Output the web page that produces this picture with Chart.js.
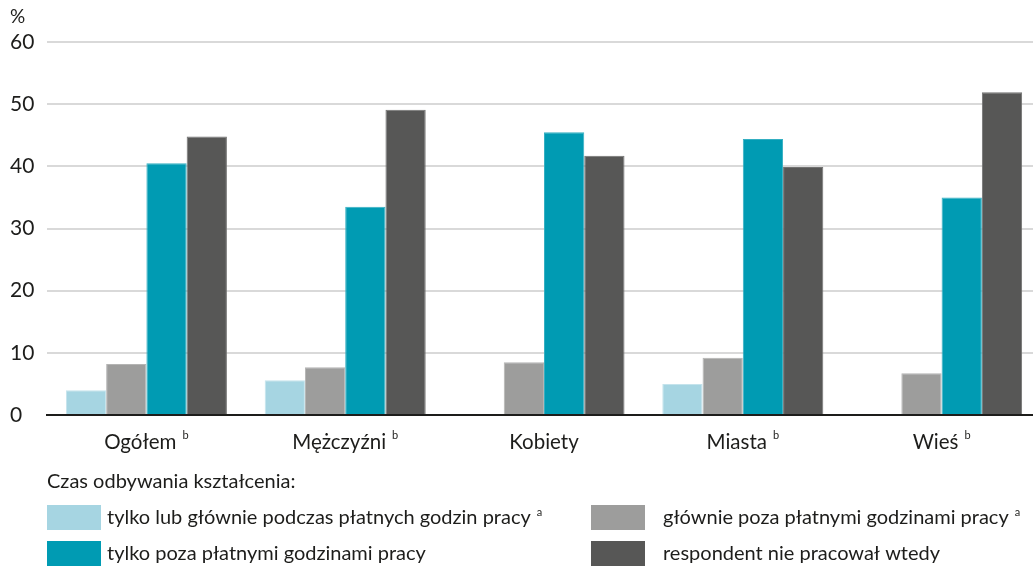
<!DOCTYPE html>
<html>
<head>
<meta charset="utf-8">
<script src="https://cdn.jsdelivr.net/npm/chart.js@4"></script>
<style>
  html, body { margin: 0; padding: 0; background: #fff; overflow: hidden; }
  #wrap { width: 1033px; height: 566px; overflow: hidden; }
</style>
</head>
<body>
<div id="wrap"><canvas id="myChart" width="1041" height="566"></canvas></div>
<script>
var categories = ['Ogółem', 'Mężczyźni', 'Kobiety', 'Miasta', 'Wieś'];
var categoryNotes = ['b', 'b', '', 'b', 'b'];

var seriesNames = [
  'tylko lub głównie podczas płatnych godzin pracy',
  'głównie poza płatnymi godzinami pracy',
  'tylko poza płatnymi godzinami pracy',
  'respondent nie pracował wtedy'
];
var seriesNotes = ['a', 'a', '', ''];

var duringWork = [4.0, 5.6, null, 5.0, null];
var mainlyOutside = [8.2, 7.7, 8.5, 9.2, 6.7];
var onlyOutside = [40.5, 33.5, 45.5, 44.4, 35.0];
var notWorking = [44.8, 49.1, 41.7, 39.9, 51.9];

var yTicks = [0, 10, 20, 30, 40, 50, 60];
var legendTitle = 'Czas odbywania kształcenia:';

var FONT = 'Lato, "Open Sans", sans-serif';
var TEXT = '#1d1d1b';

var colors = ['#a6d5e2', '#9d9d9c', '#009bb3', '#575756'];
var borders = ['#c4e3ec', '#b4b4b3', '#34afc2', '#727271'];

function textWithNote(c, txt, note, x, y, size, align) {
  c.font = size + 'px ' + FONT;
  var w = c.measureText(txt).width;
  var nw = 0;
  if (note) {
    c.font = Math.round(size * 0.55) + 'px ' + FONT;
    nw = c.measureText(note).width + 6;
  }
  var start = align === 'center' ? x - (w + nw) / 2 : x;
  c.font = size + 'px ' + FONT;
  c.textAlign = 'left';
  c.textBaseline = 'middle';
  c.fillText(txt, start, y);
  if (note) {
    c.font = Math.round(size * 0.55) + 'px ' + FONT;
    c.fillText(note, start + w + 6, y - size * 0.3);
  }
}

var extras = {
  id: 'extras',
  afterDraw: function (chart) {
    var c = chart.ctx;
    var a = chart.chartArea;
    var xs = chart.scales.x;
    c.save();
    c.fillStyle = TEXT;
    // unit
    c.font = '19px ' + FONT;
    c.textAlign = 'left';
    c.textBaseline = 'middle';
    c.fillText('%', 10, 17);
    // category labels
    categories.forEach(function (cat, i) {
      textWithNote(c, cat, categoryNotes[i], xs.getPixelForValue(i), a.bottom + 27, 20.5, 'center');
    });
    // legend
    c.fillStyle = TEXT;
    c.font = '20px ' + FONT;
    c.fillText(legendTitle, a.left, 482);
    var colX = [a.left, 591];
    var rowY = [505, 541];
    chart.data.datasets.forEach(function (ds, i) {
      var x = colX[i % 2];
      var y = rowY[Math.floor(i / 2)];
      c.fillStyle = ds.backgroundColor;
      c.fillRect(x, y, 54, 25);
      c.fillStyle = TEXT;
      var tx = i % 2 === 0 ? x + 60 : x + 72;
      textWithNote(c, ds.label, seriesNotes[i], tx, y + 13, 20, 'left');
    });
    c.restore();
  }
};

var ctx = document.getElementById('myChart').getContext('2d');
var myChart = new Chart(ctx, {
  type: 'bar',
  data: {
    labels: categories,
    datasets: [duringWork, mainlyOutside, onlyOutside, notWorking].map(function (d, i) {
      return {
        label: seriesNames[i],
        data: d,
        backgroundColor: colors[i],
        borderColor: borders[i],
        borderWidth: 1,
        categoryPercentage: 0.81,
        barPercentage: 1.0
      };
    })
  },
  options: {
    responsive: false,
    animation: false,
    layout: { padding: { top: 42, right: 0, left: 10, bottom: 143 } },
    plugins: {
      legend: { display: false },
      tooltip: { enabled: false }
    },
    scales: {
      x: {
        grid: { display: false },
        border: { display: true, color: '#1d1d1b', width: 2 },
        ticks: { display: false }
      },
      y: {
        min: 0,
        max: 60,
        afterBuildTicks: function (s) { s.ticks = yTicks.map(function (v) { return { value: v }; }); },
        afterFit: function (s) { s.width = 37; },
        border: { display: false },
        grid: { color: '#d9d9d9', lineWidth: 2, drawTicks: false },
        ticks: {
          crossAlign: 'far',
          padding: 10,
          color: TEXT,
          font: { family: FONT, size: 21 }
        }
      }
    }
  },
  plugins: [extras]
});
</script>
</body>
</html>
